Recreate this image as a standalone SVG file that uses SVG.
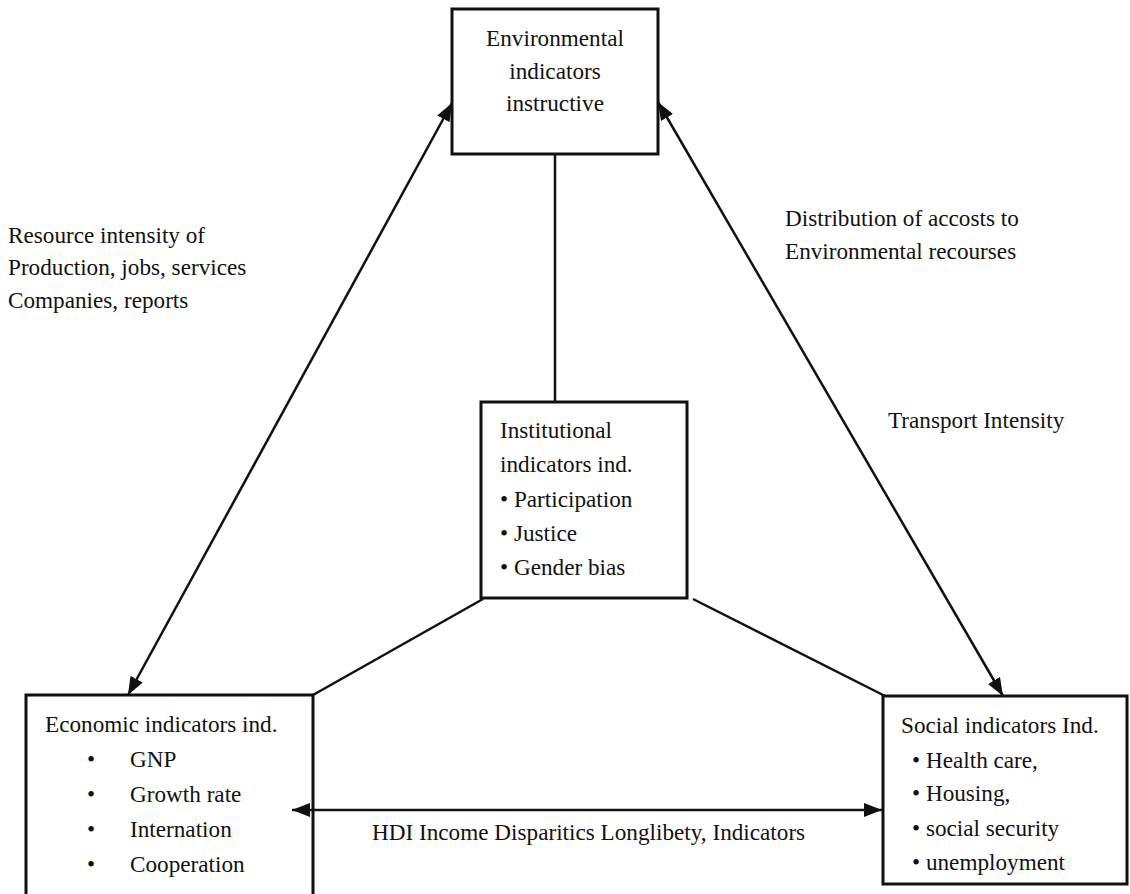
<svg xmlns="http://www.w3.org/2000/svg" width="1130" height="894" viewBox="0 0 1130 894">
<style>
.box{fill:#fff;stroke:#111;stroke-width:3}
.ln{fill:none;stroke:#111;stroke-width:2.5}
text{font-family:"Liberation Serif","Times New Roman",serif;font-size:23.2px;fill:#111}
.c{text-anchor:middle}
</style>
<defs>
<marker id="ah" viewBox="0 0 18 14" refX="18" refY="7" markerWidth="18" markerHeight="14" markerUnits="userSpaceOnUse" orient="auto-start-reverse">
<path d="M0,0 L18,7 L0,14 Z" fill="#111"/>
</marker>
</defs>
<rect width="1130" height="894" fill="#fff"/>
<g id="environmental">
<rect class="box" x="452" y="9" width="206" height="145"/>
<text class="c" x="555" y="46">Environmental</text>
<text class="c" x="555" y="79">indicators</text>
<text class="c" x="555" y="111">instructive</text>
</g>
<g id="institutional">
<rect class="box" x="481" y="402" width="206" height="196"/>
<text x="500" y="438">Institutional</text>
<text x="500" y="472">indicators ind.</text>
<text x="500" y="507">• Participation</text>
<text x="500" y="541">• Justice</text>
<text x="500" y="575">• Gender bias</text>
</g>
<g id="economic">
<rect class="box" x="26" y="695" width="287" height="204"/>
<text x="45" y="732">Economic indicators ind.</text>
<text x="87" y="767">•</text><text x="130" y="767">GNP</text>
<text x="87" y="802">•</text><text x="130" y="802">Growth rate</text>
<text x="87" y="837">•</text><text x="130" y="837">Internation</text>
<text x="87" y="872">•</text><text x="130" y="872">Cooperation</text>
</g>
<g id="social">
<rect class="box" x="883" y="696" width="244" height="188"/>
<text x="901" y="733">Social indicators Ind.</text>
<text x="912" y="768">• Health care,</text>
<text x="912" y="801">• Housing,</text>
<text x="912" y="836">• social security</text>
<text x="912" y="870">• unemployment</text>
</g>
<g id="connectors">
<line class="ln" x1="555" y1="155" x2="555" y2="401"/>
<line class="ln" x1="483" y1="599" x2="313" y2="695"/>
<line class="ln" x1="693" y1="599" x2="885" y2="696"/>
<line class="ln" x1="452" y1="103" x2="128" y2="695" marker-start="url(#ah)" marker-end="url(#ah)"/>
<line class="ln" x1="658" y1="102" x2="1003" y2="696" marker-start="url(#ah)" marker-end="url(#ah)"/>
<line class="ln" x1="292" y1="810" x2="882" y2="810" marker-start="url(#ah)" marker-end="url(#ah)"/>
</g>
<g id="labels">
<text x="8" y="243">Resource intensity of</text>
<text x="8" y="275">Production, jobs, services</text>
<text x="8" y="308">Companies, reports</text>
<text x="785" y="226">Distribution of accosts to</text>
<text x="785" y="259">Environmental recourses</text>
<text x="888" y="428">Transport Intensity</text>
<text x="372" y="840">HDI Income Disparitics Longlibety, Indicators</text>
</g>
</svg>
